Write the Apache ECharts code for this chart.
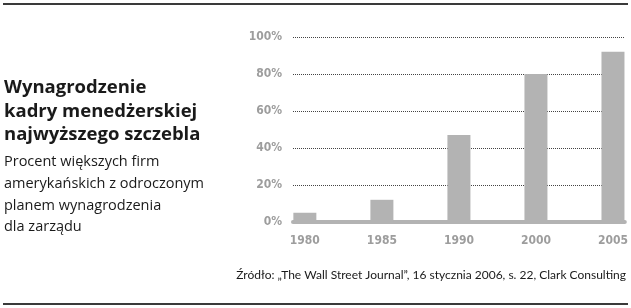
<!DOCTYPE html>
<html>
<head>
<meta charset="utf-8">
<script src="https://cdn.jsdelivr.net/npm/echarts@6/dist/echarts.min.js"></script>
<style>html,body{margin:0;padding:0;background:#fff;}#c{width:631px;height:308px;}</style>
</head>
<body>
<div id="c"></div>
<script>
var categories = ['1980', '1985', '1990', '2000', '2005'];
var values = [5, 12, 47, 80, 92];
var yTicks = [0, 20, 40, 60, 80, 100];
var titleLines = ['Wynagrodzenie', 'kadry menedżerskiej', 'najwyższego szczebla'];
var subtitleLines = ['Procent większych firm', 'amerykańskich z odroczonym', 'planem wynagrodzenia', 'dla zarządu'];
var sourceText = 'Źródło: „The Wall Street Journal”, 16 stycznia 2006, s. 22, Clark Consulting';

var chart = echarts.init(document.getElementById('c'), null, {renderer: 'canvas'});
var idx = categories.map(function (c, i) { return i; });
var data = values.map(function (v, i) { return [i, v]; });
var axisFont = '"DejaVu Sans Condensed", "DejaVu Sans", sans-serif';

var graphics = [];
graphics.push({type: 'line', shape: {x1: 3, y1: 4, x2: 628, y2: 4}, style: {stroke: '#3a3a3a', lineWidth: 2}});
graphics.push({type: 'line', shape: {x1: 3, y1: 304, x2: 628, y2: 304}, style: {stroke: '#3a3a3a', lineWidth: 2}});
var tBase = [94, 117.5, 141];
titleLines.forEach(function (t, i) {
  graphics.push({type: 'text', style: {text: t, x: 4, y: tBase[i] - 5.8, verticalAlign: 'middle', align: 'left',
    font: 'bold 18.5px "Open Sans"', fill: '#1a1a1a'}});
});
var sBase = [166.5, 188.2, 209.9, 231.6];
subtitleLines.forEach(function (t, i) {
  graphics.push({type: 'text', style: {text: t, x: 4, y: sBase[i] - 4.5, verticalAlign: 'middle', align: 'left',
    font: '14.5px "Open Sans"', fill: '#1a1a1a'}});
});
graphics.push({type: 'text', style: {text: sourceText, x: 626, y: 279 - 4, verticalAlign: 'middle', align: 'right',
  font: '12px Lato', fill: '#1a1a1a'}});

chart.setOption({
  animation: false,
  backgroundColor: '#fff',
  grid: {left: 293, right: 3, top: 37, bottom: 308 - 222, containLabel: false},
  xAxis: {
    type: 'value', min: -0.154, max: 4.154,
    axisLine: {show: true, onZero: false, lineStyle: {color: '#b3b3b3', width: 4}},
    axisTick: {show: false},
    splitLine: {show: false},
    axisLabel: {
      customValues: idx,
      formatter: function (v) { return categories[Math.round(v)]; },
      color: '#9d9d9d', fontFamily: axisFont, fontWeight: 'bold', fontSize: 12, margin: 13
    }
  },
  yAxis: {
    type: 'value', min: 0, max: 100, interval: 20,
    axisLine: {show: false}, axisTick: {show: false},
    axisLabel: {formatter: '{value}%', color: '#9d9d9d', fontFamily: axisFont, fontWeight: 'bold', fontSize: 12, margin: 11},
    splitLine: {show: true, lineStyle: {color: '#444', width: 1, type: [1, 1]}}
  },
  series: [{
    type: 'bar', data: data, barWidth: 23,
    itemStyle: {color: '#b3b3b3'}, z: 3
  }],
  graphic: graphics
});
</script>
</body>
</html>
